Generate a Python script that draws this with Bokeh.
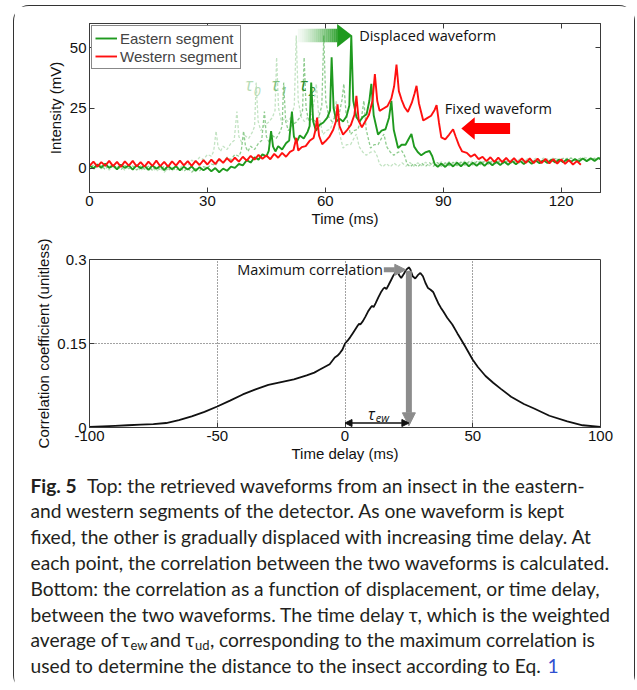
from bokeh.plotting import figure
from bokeh.layouts import column
from bokeh.models import Range1d, FixedTicker, LinearAxis, Arrow, NormalHead, Legend, LegendItem
from bokeh.core.properties import value
from bokeh.embed import file_html
from bokeh.resources import INLINE

# ---------------- data ----------------
# Eastern segment waveform (solid green, shown at displacement tau2)
EAST_T = [0, 1, 2, 3, 4, 5, 6, 7, 8, 9, 10, 11, 12, 13, 14, 15, 16, 17, 18, 19,
          20, 21, 22, 23, 24, 25, 26, 27, 28, 29, 30, 31, 32, 33, 34, 35, 36, 37, 38, 39,
          40, 41, 42, 43, 44, 45, 45.6, 46.2, 46.7, 47.3, 48, 49, 50, 50.8, 51.5, 52, 52.7,
          53.5, 54.5, 55.5, 56.0, 56.4, 56.9, 57.6, 58.5, 59.5, 60.5, 61.2, 61.6, 62.1, 62.8,
          63.6, 64.5, 65.4, 66.1, 66.6, 67.1, 67.9, 68.7, 69.6, 70.5, 71.2, 71.7, 72.3, 73.4,
          74.3, 75.3, 76.2, 76.8, 77.4, 78.5, 79.4, 80.4, 81.4, 81.9, 82.6, 83.5, 84.4, 85.4,
          86.5, 87.2, 87.8, 88.6, 89.5, 90.5, 91.5, 92.5, 93.5, 94.5, 95.5, 96.5, 97.5, 98.5,
          99.5, 100.5, 101.5, 102.5, 103.5, 104.5, 105.5, 106.5, 107.5, 108.5, 109.5, 110.5,
          111.5, 112.5, 113.5, 114.5, 115.5, 116.5, 117.5, 118.5, 119.5, 120.5, 121.5, 122.5,
          123.5, 124.5, 125.5, 126.5, 127.5, 128.5, 129.5, 130.5, 132, 134, 136, 138, 140, 142, 144]
EAST_MV = [1.2, 0.0, 1.6, 0.3, 1.9, 0.2, 1.3, -0.4, 1.5, 0.2, 1.2, -0.5, 1.3, 0.0, 1.1, -0.6, 1.2, -0.2, 1.0, -0.7,
           1.0, -0.4, 0.9, -0.8, 0.7, -0.5, 0.8, -1.0, 0.5, -0.8, 0.3, -1.2, 0.1, -1.6, -0.1, -1.0, 0.7, 0.2, 1.8, 1.2,
           3.4, 2.4, 4.6, 3.6, 5.8, 5.0, 7.2, 15.4, 9.0, 7.0, 9.2, 7.8, 10.4, 11.5, 23.5, 13.2, 10.8,
           13.6, 12.4, 15.2, 17.5, 35.5, 19.5, 15.6, 18.0, 19.0, 21.0, 24.0, 46.0, 25.0, 19.4,
           20.6, 19.4, 21.6, 26.0, 55.0, 28.0, 21.2, 19.4, 21.4, 22.4, 28.0, 35.0, 22.0, 14.0,
           15.6, 16.2, 21.0, 28.0, 16.0, 8.4, 9.8, 9.8, 12.8, 14.2, 9.0, 6.8, 5.4, 6.6,
           7.2, 5.0, 1.8, 0.6, 2.0, 0.6, 2.2, 0.8, 2.3, 0.9, 2.4, 0.9, 2.3, 1.1,
           2.5, 1.1, 2.6, 1.3, 2.7, 1.4, 2.8, 1.5, 3.0, 1.7, 3.1, 1.8,
           3.2, 1.9, 3.3, 2.1, 3.4, 2.2, 3.6, 2.4, 3.7, 2.5, 3.8, 2.7,
           3.9, 2.8, 4.1, 3.0, 4.2, 3.1, 4.3, 3.2, 4.2, 3.4, 4.4, 3.5, 4.5, 3.6, 4.6]

# Western segment waveform (red, fixed)
WEST_T = [0, 1, 2, 3, 4, 5, 6, 7, 8, 9, 10, 11, 12, 13, 14, 15, 16, 17, 18, 19,
          20, 21, 22, 23, 24, 25, 26, 27, 28, 29, 30, 31, 32, 33, 34, 35, 36, 37, 38, 39,
          40, 41, 42, 43, 44, 45, 46, 47, 48, 49, 50, 51, 51.9, 52.6, 53.1, 54, 55, 56, 57,
          57.5, 57.9, 58.4, 59.2, 60, 61, 62, 62.7, 63.1, 63.6, 64.5, 65.4, 66.5, 67.4, 67.9,
          68.5, 69.3, 70.2, 71.1, 72.0, 72.6, 73.2, 73.8, 74.8, 75.8, 76.8, 77.5, 78.1, 78.7,
          79.4, 80.2, 81.0, 82.0, 82.7, 83.2, 83.8, 84.9, 85.9, 86.9, 87.8, 88.3, 88.9, 89.5,
          90.5, 91.5, 92.5, 93.2, 94.0, 94.8, 96, 97, 98, 99, 100, 101, 102, 103, 104, 105,
          106, 107, 108, 109, 110, 111, 112, 113, 114, 115, 116, 117, 118, 119, 120, 121,
          122, 123, 124, 125]
WEST_MV = [1.0, 2.8, 0.7, 2.6, 1.0, 3.1, 0.9, 2.7, 0.6, 2.9, 1.1, 3.1, 0.8, 2.6, 0.7, 2.8, 1.0, 3.2, 0.9, 2.7,
           0.7, 2.9, 1.1, 3.2, 1.2, 3.0, 1.0, 3.1, 1.4, 3.4, 1.6, 3.6, 1.8, 3.9, 2.3, 4.2, 2.6, 4.4, 2.8, 4.8,
           3.2, 5.2, 3.6, 5.6, 4.0, 5.3, 3.8, 6.0, 4.4, 6.4, 4.8, 6.8, 7.6, 12.6, 7.4, 8.8, 9.2, 11.4, 12.6,
           16.0, 21.0, 13.5, 10.0, 11.2, 13.0, 16.0, 19.5, 26.5, 17.5, 14.0, 15.6, 18.0, 22.2, 30.0,
           19.6, 17.0, 19.6, 22.2, 28.0, 39.0, 28.0, 23.8, 24.8, 25.8, 29.0, 34.0, 43.0, 32.0,
           28.4, 25.2, 23.4, 27.2, 31.0, 34.2, 27.0, 19.8, 20.8, 21.8, 24.2, 26.2, 19.0, 12.8,
           12.0, 14.0, 16.2, 13.0, 9.5, 7.0, 6.4, 4.8, 5.8, 3.8, 4.8, 3.0, 4.6, 2.7, 4.4, 2.6,
           4.3, 2.5, 4.2, 2.4, 4.1, 2.3, 4.1, 2.2, 4.0, 2.2, 3.9, 2.1, 3.8, 2.0, 3.7, 1.9,
           3.4, 1.6, 3.0, 1.5]

# Earlier displacements of the eastern waveform (tau0, tau1), in ms to the left
TAU_SHIFTS_MS = [14, 7]

# Correlation coefficient vs time delay
DELAY_MS = [-100, -95, -90, -85, -80, -75, -70, -65, -60, -55, -50, -45, -40, -35, -30, -25, -20, -15,
            -12, -10, -8, -6, -4, -3, -2, -1, 0, 1, 2, 3, 4, 5, 5.5, 6, 7, 8, 9, 10, 10.6, 11.2, 12,
            13, 14, 15, 15.6, 16.2, 17, 18, 19, 20, 20.5, 21.2, 22, 23, 24, 25, 25.6, 26.5, 27.5,
            28.5, 29.5, 30.5, 31.5, 32.5, 33.5, 34.5, 35.5, 36.5, 37.5, 38.5, 40, 42, 44, 45.2,
            47, 50, 52, 55, 58, 61, 65, 70, 74, 80, 87, 93, 100]
CORR = [0.001, 0.002, 0.003, 0.004, 0.005, 0.006, 0.008, 0.013, 0.020, 0.028, 0.0375, 0.048, 0.059,
        0.068, 0.076, 0.081, 0.086, 0.093, 0.098, 0.103, 0.108, 0.113, 0.125, 0.128, 0.133, 0.139,
        0.150, 0.155, 0.161, 0.168, 0.175, 0.182, 0.185, 0.184, 0.190, 0.198, 0.207, 0.214, 0.217,
        0.215, 0.222, 0.232, 0.241, 0.248, 0.250, 0.247, 0.254, 0.263, 0.272, 0.278, 0.280, 0.272,
        0.267, 0.274, 0.282, 0.286, 0.282, 0.270, 0.266, 0.272, 0.276, 0.270, 0.258, 0.249, 0.246,
        0.242, 0.232, 0.222, 0.214, 0.207, 0.196, 0.184, 0.168, 0.159, 0.145, 0.121, 0.108, 0.092,
        0.080, 0.069, 0.055, 0.042, 0.034, 0.021, 0.011, 0.004, 0.001]
PEAK_DELAY = 25
PEAK_CORR = 0.284

TOP_X_TICKS = [0, 30, 60, 90, 120]
TOP_Y_TICKS = [0, 25, 50]
BOT_X_TICKS = [-100, -50, 0, 50, 100]
BOT_Y_TICKS = [0, 0.15, 0.3]
BOT_Y_LABELS = {0: "0", 0.15: "0.15", 0.3: "0.3"}

# ---------------- styles ----------------
AX_FONT = "Liberation Sans"
ANN_FONT = "Open Sans"
CAP_FONT = "Lato"
GREEN = "#1f9a1f"
GREY = "#8c8c8c"
AXC = "#3a3a3a"
BORDER = "1.5px solid #333333"


def style_axis(ax, ticks, labels=True):
    ax.ticker = FixedTicker(ticks=ticks)
    ax.major_tick_in = 5
    ax.major_tick_out = 0
    ax.minor_tick_line_color = None
    ax.axis_line_color = AXC
    ax.major_tick_line_color = AXC
    ax.major_label_text_font = AX_FONT
    ax.major_label_text_font_size = "15px" if labels else "1px"
    ax.major_label_text_color = "#111111"
    ax.axis_label_text_font = AX_FONT
    ax.axis_label_text_font_size = "15px"
    ax.axis_label_text_font_style = "normal"
    ax.axis_label_text_color = "#111111"
    if not labels:
        ax.major_label_overrides = {t: "" for t in ticks}
        ax.major_label_standoff = 0


# ---------------- top figure ----------------
p1 = figure(frame_width=511, frame_height=169, x_range=Range1d(0, 130), y_range=Range1d(-10, 60),
            min_border_left=74, min_border_right=35, min_border_top=17, min_border_bottom=37,
            output_backend="svg", toolbar_location=None)
p1.grid.visible = False
p1.outline_line_color = AXC
style_axis(p1.xaxis[0], TOP_X_TICKS)
style_axis(p1.yaxis[0], TOP_Y_TICKS)
p1.xaxis.axis_label = "Time (ms)"
p1.yaxis.axis_label = "Intensity (mV)"
p1.xaxis.major_label_standoff = 3
p1.xaxis.axis_label_standoff = 1
p1.yaxis.major_label_standoff = 3
p1.yaxis.axis_label_standoff = 3
ax_top = LinearAxis()
style_axis(ax_top, TOP_X_TICKS, labels=False)
ax_right = LinearAxis()
style_axis(ax_right, TOP_Y_TICKS, labels=False)
p1.add_layout(ax_top, "above")
p1.add_layout(ax_right, "right")

ghost_colors = ["#c3e3c3", "#8fcc8f"]
for shift, col in zip(TAU_SHIFTS_MS, ghost_colors):
    p1.line([t - shift for t in EAST_T], EAST_MV, line_color=col, line_width=1.3, line_dash="3 2")
r_e = p1.line(EAST_T, EAST_MV, line_color=GREEN, line_width=1.9)
r_w = p1.line(WEST_T, WEST_MV, line_color="#ff1010", line_width=1.9)

legend = Legend(items=[LegendItem(label="Eastern segment", renderers=[r_e]),
                       LegendItem(label="Western segment", renderers=[r_w])],
                location="top_left", margin=2, padding=3, spacing=0, label_height=18,
                glyph_height=18, glyph_width=22, label_standoff=3,
                label_text_font=AX_FONT, label_text_font_size="15px",
                border_line_color="#111111", border_line_width=1, background_fill_alpha=1)
p1.add_layout(legend)

# gradient "displaced" arrow
ARROW_G_X0, ARROW_G_X1, ARROW_G_TIP = 53.0, 63.0, 66.8
steps = 20
for i in range(steps):
    x0 = ARROW_G_X0 + (ARROW_G_X1 - ARROW_G_X0) * i / steps
    x1 = ARROW_G_X0 + (ARROW_G_X1 - ARROW_G_X0) * (i + 1) / steps
    p1.quad(left=x0, right=x1, bottom=52.2, top=57.8, fill_color=GREEN, line_color=None,
            fill_alpha=0.05 + 0.9 * (i / steps) ** 1.3)
p1.patch([ARROW_G_X1, ARROW_G_X1, ARROW_G_TIP], [50.2, 59.8, 55.0], fill_color=GREEN, line_color=None)
p1.text(x=[68.6], y=[55.0], text=["Displaced waveform"], text_font=value(ANN_FONT),
        text_font_size="14.5px", text_baseline="middle", text_color="#111111")

# red "fixed" arrow
p1.patch([94.6, 98.0, 98.0, 107.0, 107.0, 98.0, 98.0], [16.5, 21.2, 18.8, 18.8, 14.2, 14.2, 11.8],
         fill_color="#ff0000", line_color=None)
p1.text(x=[90.4], y=[25.0], text=["Fixed waveform"], text_font=value(ANN_FONT),
        text_font_size="14.5px", text_baseline="middle", text_color="#111111")

# tau labels
TAU_LABEL_T = [39.6, 46.3, 53.5]
TAU_COLORS = ["#b6dcb6", "#7fc27f", "#2e8e2e"]
for k, (tx, col) in enumerate(zip(TAU_LABEL_T, TAU_COLORS)):
    p1.text(x=[tx], y=[34.8], text=["τ"], text_font=value(ANN_FONT), text_font_size="18px",
            text_font_style="italic", text_baseline="middle", text_color=col)
    p1.text(x=[tx + 2.2], y=[32.0], text=[str(k)], text_font=value(ANN_FONT), text_font_size="12.5px",
            text_font_style="italic", text_baseline="middle", text_color=col)

# ---------------- bottom figure ----------------
p2 = figure(frame_width=511, frame_height=168, x_range=Range1d(-100, 100), y_range=Range1d(0, 0.3),
            min_border_left=75, min_border_right=34, min_border_top=30, min_border_bottom=36,
            output_backend="svg", toolbar_location=None)
p2.outline_line_color = AXC
style_axis(p2.xaxis[0], BOT_X_TICKS)
style_axis(p2.yaxis[0], BOT_Y_TICKS)
p2.yaxis.major_label_overrides = BOT_Y_LABELS
p2.xaxis.major_label_overrides = {t: str(t) for t in BOT_X_TICKS}
p2.xaxis.axis_label = "Time delay (ms)"
p2.yaxis.axis_label = "Correlation coefficient (unitless)"
p2.xaxis.major_label_standoff = 3
p2.xaxis.axis_label_standoff = 1
p2.yaxis.major_label_standoff = 3
p2.yaxis.axis_label_standoff = 2
p2.xgrid.ticker = FixedTicker(ticks=[-50, 0, 50])
p2.ygrid.ticker = FixedTicker(ticks=[0.15])
p2.grid.grid_line_color = "#444444"
p2.grid.grid_line_dash = "1 2"
p2.grid.grid_line_width = 1

p2.line(DELAY_MS, CORR, line_color="#111111", line_width=1.8)

p2.add_layout(Arrow(end=NormalHead(size=13, fill_color=GREY, line_color=GREY),
                    x_start=PEAK_DELAY, y_start=PEAK_CORR - 0.004, x_end=PEAK_DELAY, y_end=0.003,
                    line_color=GREY, line_width=6))
p2.add_layout(Arrow(end=NormalHead(size=11, fill_color=GREY, line_color=GREY),
                    x_start=15.2, y_start=0.2816, x_end=PEAK_DELAY - 1.2, y_end=0.2816,
                    line_color=GREY, line_width=5))
p2.add_layout(Arrow(start=NormalHead(size=7, fill_color="#111111", line_color="#111111"),
                    end=NormalHead(size=7, fill_color="#111111", line_color="#111111"),
                    x_start=0, y_start=0.008, x_end=PEAK_DELAY, y_end=0.008,
                    line_color="#111111", line_width=1.5))
p2.text(x=[-42.2], y=[0.2816], text=["Maximum correlation"], text_font=value(ANN_FONT),
        text_font_size="14.5px", text_baseline="middle", text_color="#111111")
p2.text(x=[9.0], y=[0.0235], text=["τ"], text_font=value(ANN_FONT), text_font_size="16px",
        text_font_style="italic", text_baseline="middle", text_color="#111111")
p2.text(x=[12.0], y=[0.0175], text=["ew"], text_font=value(ANN_FONT), text_font_size="11px",
        text_font_style="italic", text_baseline="middle", text_color="#111111")

# ---------------- caption ----------------
CAP_H = 226
p3 = figure(width=620, height=CAP_H, x_range=Range1d(0, 620), y_range=Range1d(CAP_H, 0),
            min_border=0, output_backend="svg", toolbar_location=None)
p3.axis.visible = False
p3.grid.visible = False
p3.outline_line_color = None

L0 = 20.5
DY = 25.8
LX = 16
CAP_SIZE = "19.2px"
SUB_SIZE = "13px"
CAP_COL = "#231f20"


def cap(x, line, s, size=CAP_SIZE, style="normal", color=CAP_COL, dy=0.0):
    p3.text(x=[x], y=[L0 + DY * line + dy], text=[s], text_font=value(CAP_FONT), text_font_size=size,
            text_font_style=style, text_baseline="middle", text_align="left", text_color=color)


cap(LX, 0, "Fig. 5", style="bold")
cap(72.5, 0, "Top: the retrieved waveforms from an insect in the eastern-")
cap(LX, 1, "and western segments of the detector. As one waveform is kept")
cap(LX, 2, "fixed, the other is gradually displaced with increasing time delay. At")
cap(LX, 3, "each point, the correlation between the two waveforms is calculated.")
cap(LX, 4, "Bottom: the correlation as a function of displacement, or time delay,")
cap(LX, 5, "between the two waveforms. The time delay τ, which is the weighted")
cap(LX, 6, "average of")
cap(106.5, 6, "τ")
cap(116, 6, "ew", size=SUB_SIZE, dy=5)
cap(135.5, 6, "and")
cap(171, 6, "τ")
cap(180.5, 6, "ud", size=SUB_SIZE, dy=5)
cap(195.5, 6, ",")
cap(204.5, 6, "corresponding to the maximum correlation is")
cap(LX, 7, "used to determine the distance to the insect according to Eq.")
cap(533, 7, "1", color="#2f4fd0")

upper = column(p1, p2, margin=(5, 0, 0, 13),
               styles={"border": BORDER, "border-bottom": "none",
                       "border-radius": "16px 16px 0 0", "background-color": "white"})
lower = column(p3, margin=(0, 0, 0, 13),
               styles={"border": BORDER, "border-top": "none",
                       "border-radius": "0 0 16px 16px", "background-color": "white"})

open("out.html", "w").write(file_html([upper, lower], INLINE))
